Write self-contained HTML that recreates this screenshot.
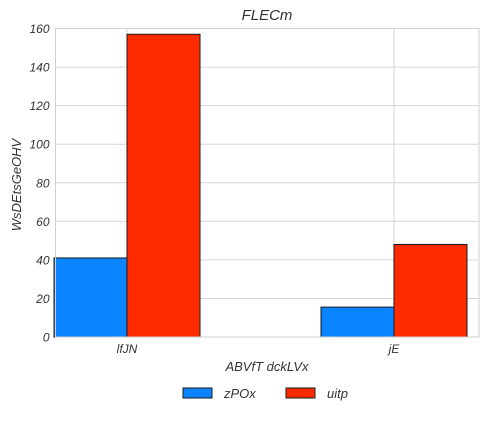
<!DOCTYPE html>
<html><head><meta charset="utf-8"><style>
body{margin:0;background:#fff;}
svg{display:block;font-family:"Liberation Sans",sans-serif;font-style:italic;}
</style></head><body>
<svg id="c" width="488" height="427"></svg>
<script>
const categories = ["lfJN", "jE"];
const seriesNames = ["zPOx", "uitp"];
const seriesA = [41, 15.5];
const seriesB = [157, 48];
const yTicks = [0, 20, 40, 60, 80, 100, 120, 140, 160];

const ns = "http://www.w3.org/2000/svg";
const svg = document.getElementById("c");
const L = 55.5, R = 479, T = 28.5, B = 337;
const yMax = 160;
const y = v => B - v / yMax * (B - T);
const x = i => 127 + i * 267;
const bw = 73;
const colors = ["#0a84ff", "#ff2a00"];
function mk(tag, attrs, parent) {
  const e = document.createElementNS(ns, tag);
  for (const k in attrs) e.setAttribute(k, attrs[k]);
  (parent || svg).appendChild(e);
  return e;
}
let bg = mk("rect", {x: L, y: T, width: R - L, height: B - T, fill: "#fff"});


yTicks.forEach(t => {
  let g = mk("line", {x1: L, x2: R, y1: y(t), y2: y(t), stroke: "#d6d6d6", "stroke-width": 1});
  
  
  let tx = mk("text", {x: L - 6, y: y(t) + 4.5, "text-anchor": "end", "font-size": 12, fill: "#333"});
  tx.textContent = t;
  
  
});
categories.forEach((c, i) => {
  let g = mk("line", {x1: x(i), x2: x(i), y1: T, y2: B, stroke: "#d6d6d6", "stroke-width": 1});
  
  
});
[seriesA, seriesB].forEach((s, si) => {
  s.forEach((v, i) => {
    const x0 = si === 0 ? x(i) - bw : x(i);
    let r = mk("rect", {x: x0, y: y(v), width: bw, height: B - y(v), fill: colors[si], stroke: "#1a1a1a", "stroke-width": 1});
    
    
  });
});
let fr = mk("rect", {x: L, y: T, width: R - L, height: B - T, fill: "none", stroke: "#cfcfcf", "stroke-width": 1});


categories.forEach((c, i) => {
  let tx = mk("text", {x: x(i), y: 353, "text-anchor": "middle", "font-size": 12, fill: "#333"});
  tx.textContent = c;
  
  
});
let title = mk("text", {x: 267, y: 20, "text-anchor": "middle", "font-size": 15, fill: "#333"});
title.textContent = "FLECm";


let xt = mk("text", {x: 267, y: 371, "text-anchor": "middle", "font-size": 13, fill: "#333"});
xt.textContent = "ABVfT dckLVx";


let yt = mk("text", {x: 0, y: 0, "text-anchor": "middle", "font-size": 13, fill: "#333", transform: "translate(21,185) rotate(-90)"});
yt.textContent = "WsDEtsGeOHV";


const legX = [183, 286];
seriesNames.forEach((n, i) => {
  let r = mk("rect", {x: legX[i], y: 388, width: 29, height: 10, fill: colors[i], stroke: "#1a1a1a", "stroke-width": 1});
  
  
  let tx = mk("text", {x: legX[i] + 41, y: 398, "font-size": 13, fill: "#333"});
  tx.textContent = n;
  
  
});
</script>
</body></html>
